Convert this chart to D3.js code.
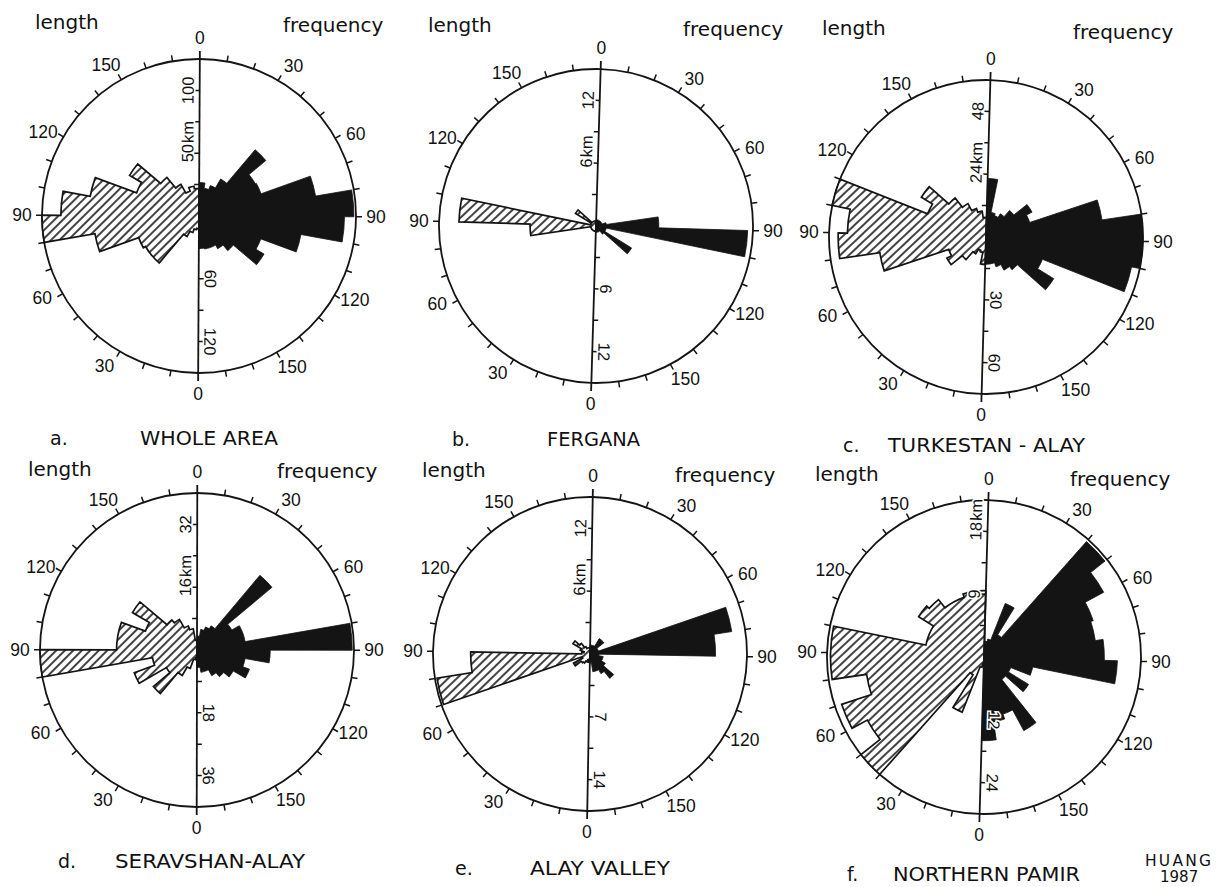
<!DOCTYPE html>
<html>
<head>
<meta charset="utf-8">
<script src="https://cdn.jsdelivr.net/npm/d3@7"></script>
<style>
body { margin: 0; background: #fff; }
svg { display: block; }
text { font-family: "DejaVu Sans", sans-serif; fill: #111; }
.num { font-family: "Liberation Sans Narrow", "Liberation Sans", sans-serif; }
.deg { font-family: "Liberation Sans", sans-serif; }
</style>
</head>
<body>
<svg width="1216" height="887"></svg>
<script>
// 10 degree strike classes, 0-180
const bins = d3.range(0, 180, 10);
const angleTicks = [0, 30, 60, 90, 120, 150];

const panelIds = ["a.", "b.", "c.", "d.", "e.", "f."];
const panelNames = ["WHOLE AREA", "FERGANA", "TURKESTAN - ALAY", "SERAVSHAN-ALAY", "ALAY VALLEY", "NORTHERN PAMIR"];

// number of faults per class (right half)
const freqA = [32, 27, 31, 41, 83, 62, 63, 113, 148, 139, 99, 63, 72, 43, 36, 32, 32, 31];
const freqB = [0.6, 0.6, 0.6, 0.6, 0.6, 0.6, 0.6, 1, 6, 14.5, 1, 1, 4, 1, 0.6, 0.6, 0.6, 0.6];
const freqC = [28, 12, 11, 13, 17, 25, 22, 56, 75, 75, 71, 29, 38, 20, 18, 15, 13, 13];
const freqD = [4, 6, 7, 8, 28, 11.5, 14, 14, 44.5, 21, 14, 16, 12, 10, 8.5, 6.5, 6.5, 5];
const freqE = [1, 1, 1, 2, 2, 1, 1, 16, 14, 1, 1.5, 1.5, 2, 3.5, 2.5, 2, 2, 1];
const freqF = [3, 3.5, 11, 5, 29.5, 26, 22, 21.5, 23, 25.5, 9.5, 5.5, 10, 5.5, 16, 11.5, 12.5, 16];

// total fault length per class in km (left half)
const lengthA = [10, 11, 14, 19, 49, 49, 51, 84, 125, 110, 88, 53, 64, 40, 29, 21, 24, 22];
const lengthB = [0.5, 0.5, 0.5, 0.5, 0.5, 0.5, 0.5, 0.5, 6.3, 13.1, 0.5, 0.5, 2.3, 0.5, 0.5, 0.5, 0.5, 0.5];
const lengthC = [10.5, 6, 5.5, 7.5, 11.5, 17, 15, 41, 56.5, 53, 60, 24, 29, 19, 14.5, 11.5, 10, 7.5];
const lengthD = [2, 2.5, 5, 7.5, 14.5, 9, 17, 11.5, 40, 20.5, 20.5, 14, 19, 10, 9, 6.5, 5.5, 2.5];
const lengthE = [0.8, 0.6, 0.8, 1, 1.1, 1.8, 0.8, 14.8, 11.4, 0.8, 0.6, 1, 1.9, 1.3, 0.8, 0.6, 0.6, 0.6];
const lengthF = [1, 1.5, 8.5, 3, 22.5, 19, 21.5, 17, 22, 22, 8.5, 8.5, 11, 10.5, 9, 9, 9.5, 9.5];

const freqData = [freqA, freqB, freqC, freqD, freqE, freqF];
const lengthData = [lengthA, lengthB, lengthC, lengthD, lengthE, lengthF];

// radial scale labels on the vertical axis
const lengthAxisLabels = [["50km", "100"], ["6km", "12"], ["24km", "48"], ["16km", "32"], ["6km", "12"], ["9", "18km"]];
const freqAxisLabels = [["60", "120"], ["6", "12"], ["30", "60"], ["18", "36"], ["7", "14"], ["12", "24"]];

// where each rose sits on the sheet (scan is slightly rotated)
const panelLayout = [
  { cx: 199, cy: 216, rot: 0.3, lenX: 35, lenY: 29, frqX: 283, frqY: 32, letX: 50, titX: 140, titY: 445, titW: 138 },
  { cx: 596, cy: 226, rot: 1.7, lenX: 428, lenY: 32, frqX: 683, frqY: 36, letX: 452, titX: 547, titY: 446, titW: 93 },
  { cx: 986, cy: 237, rot: 1.6, lenX: 822, lenY: 35, frqX: 1073, frqY: 39, letX: 843, titX: 888, titY: 452, titW: 197 },
  { cx: 197, cy: 650, rot: 0.1, lenX: 28, lenY: 476, frqX: 277, frqY: 478, letX: 58, titX: 115, titY: 868, titW: 190 },
  { cx: 590, cy: 654, rot: 1.0, lenX: 422, lenY: 477, frqX: 675, frqY: 482, letX: 455, titX: 530, titY: 875, titW: 140 },
  { cx: 984, cy: 657, rot: 1.6, lenX: 815, lenY: 481, frqX: 1070, frqY: 486, letX: 847, titX: 893, titY: 881, titW: 187 }
];

const R = 157;
const rad = Math.PI / 180;
const ink = "#141414";

const svg = d3.select("svg");
svg.append("rect").attr("width", 1216).attr("height", 887).attr("fill", "#fff");

const pat = svg.append("defs").append("pattern")
  .attr("id", "hatch")
  .attr("patternUnits", "userSpaceOnUse")
  .attr("width", 6).attr("height", 6)
  .attr("patternTransform", "rotate(45)");
pat.append("rect").attr("width", 6).attr("height", 6).attr("fill", "#fff");
pat.append("line").attr("x1", 3).attr("y1", -1).attr("x2", 3).attr("y2", 7)
  .attr("stroke", ink).attr("stroke-width", 1.6);

// outline of a half rose: one sector per class, starting at bearing offset
function rosePath(values, offset, scale) {
  const p = d3.path();
  p.moveTo(0, 0);
  values.forEach((v, i) => {
    const a0 = (offset + bins[i]) * rad - Math.PI / 2;
    const a1 = a0 + 10 * rad;
    const r = scale(v);
    p.lineTo(r * Math.cos(a0), r * Math.sin(a0));
    p.arc(0, 0, r, a0, a1);
  });
  p.closePath();
  return p.toString();
}

function polar(b, r) {
  const a = b * rad - Math.PI / 2;
  return [r * Math.cos(a), r * Math.sin(a)];
}

panelIds.forEach((id, k) => {
  const L = panelLayout[k];
  const lenOuter = parseFloat(lengthAxisLabels[k][1]);
  const frqOuter = parseFloat(freqAxisLabels[k][1]);
  const rLen = d3.scaleLinear().domain([0, lenOuter / 0.8]).range([0, R]);
  const rFrq = d3.scaleLinear().domain([0, frqOuter / 0.8]).range([0, R]);

  const g = svg.append("g").attr("transform", `translate(${L.cx},${L.cy}) rotate(${L.rot})`);

  g.append("circle").attr("r", R).attr("fill", "none").attr("stroke", ink).attr("stroke-width", 1.8);

  g.selectAll(".ctick")
    .data(d3.range(10, 360, 10).filter(d => d !== 180))
    .enter().append("line")
    .attr("x1", d => polar(d, R)[0]).attr("y1", d => polar(d, R)[1])
    .attr("x2", d => polar(d, R + 6)[0]).attr("y2", d => polar(d, R + 6)[1])
    .attr("stroke", ink).attr("stroke-width", 1.5);

  // length rose on the left half (class t drawn at bearing 180 + t)
  g.append("path")
    .attr("d", rosePath(lengthData[k], 180, rLen))
    .attr("fill", "url(#hatch)")
    .attr("stroke", ink).attr("stroke-width", 1.7).attr("stroke-linejoin", "miter");

  // frequency rose on the right half
  g.append("path")
    .attr("d", rosePath(freqData[k], 0, rFrq))
    .attr("fill", ink)
    .attr("stroke", ink).attr("stroke-width", 0.8);

  // vertical axis
  g.append("line").attr("x1", 0).attr("x2", 0).attr("y1", -R - 8).attr("y2", R + 8)
    .attr("stroke", ink).attr("stroke-width", 1.8);

  const q = [1, 2, 3, 4];
  g.selectAll(".ltick").data(q).enter().append("line")
    .attr("x1", 0).attr("x2", -5)
    .attr("y1", d => -rLen(lenOuter * d / 4)).attr("y2", d => -rLen(lenOuter * d / 4))
    .attr("stroke", ink).attr("stroke-width", 1.5);
  g.selectAll(".ftick").data(q).enter().append("line")
    .attr("x1", 0).attr("x2", 5)
    .attr("y1", d => rFrq(frqOuter * d / 4)).attr("y2", d => rFrq(frqOuter * d / 4))
    .attr("stroke", ink).attr("stroke-width", 1.5);

  // km labels read upwards, number centred on its tick
  lengthAxisLabels[k].forEach(lab => {
    const num = lab.replace("km", "");
    const t = g.append("g").attr("transform", `translate(-6,${-rLen(parseFloat(lab))}) rotate(-90)`);
    const tn = t.append("text").attr("class", "num")
      .attr("text-anchor", "middle").attr("font-size", 16.5)
      .attr("stroke", "#fff").attr("stroke-width", 3).attr("paint-order", "stroke")
      .text(num);
    if (lab.endsWith("km")) {
      const w = tn.node().getComputedTextLength();
      t.append("text").attr("class", "num").attr("x", w / 2 + 1)
        .attr("font-size", 16.5)
        .attr("stroke", "#fff").attr("stroke-width", 3).attr("paint-order", "stroke")
        .text("km");
    }
  });
  freqAxisLabels[k].forEach(lab => {
    g.append("text").attr("class", "num")
      .attr("transform", `translate(6,${rFrq(parseFloat(lab))}) rotate(90)`)
      .attr("text-anchor", "middle").attr("font-size", 16.5)
      .attr("stroke", "#fff").attr("stroke-width", 3).attr("paint-order", "stroke")
      .text(lab);
  });

  // strike labels round the circle
  const marks = [];
  angleTicks.forEach(v => {
    marks.push({ b: v, v });
    marks.push({ b: 180 + v, v });
  });
  g.selectAll(".alab").data(marks).enter().append("text")
    .attr("class", "deg")
    .attr("font-size", 17.5)
    .attr("text-anchor", "middle")
    .attr("dominant-baseline", "central")
    .attr("transform", d => {
      let b = d.b;
      if (b % 90 !== 0) {
        const h = b < 180 ? 90 : 270;
        b += b < h ? 2 : -2;
      }
      const [x, y] = polar(b, d.b % 180 === 0 ? R + 21 : R + 20);
      return `translate(${x},${y}) rotate(${-L.rot})`;
    })
    .text(d => d.v);

  svg.append("text").attr("x", L.lenX).attr("y", L.lenY).attr("font-size", 20).text("length");
  svg.append("text").attr("x", L.frqX).attr("y", L.frqY).attr("font-size", 20).text("frequency");
  svg.append("text").attr("x", L.letX).attr("y", L.titY).attr("font-size", 19).text(id);
  svg.append("text").attr("x", L.titX).attr("y", L.titY).attr("font-size", 20)
    .attr("textLength", L.titW).attr("lengthAdjust", "spacingAndGlyphs")
    .text(panelNames[k]);
});

svg.append("text").attr("x", 1145).attr("y", 866).attr("font-size", 15.5).attr("textLength", 66).text("HUANG");
svg.append("text").attr("x", 1160).attr("y", 882).attr("font-size", 15).text("1987");
</script>
</body>
</html>
